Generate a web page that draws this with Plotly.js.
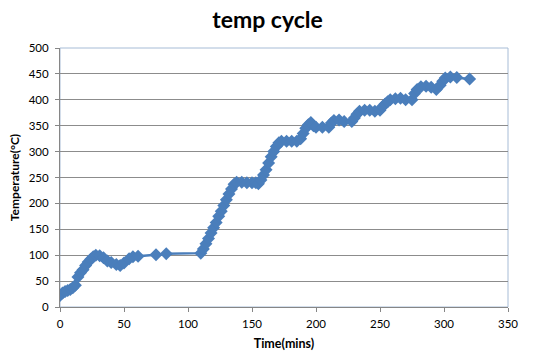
<!DOCTYPE html>
<html>
<head>
<meta charset="utf-8">
<script src="https://cdn.plot.ly/plotly-3.0.1.min.js"></script>
<style>html,body{margin:0;padding:0;background:#fff;}#chart{width:535px;height:357px;}</style>
</head>
<body>
<div id="chart"></div>
<script>
var timeMins = [0,2,4,6,8,10,12,14,16,18,20,22,24,26,28,31,34,37,40,44,47,50,54,57,61,75,83,
  110,112,114,116,118,120,122,124,126,128,130,132,134,136,138,142,146,150,153,155,
  157,159,161,163,165,167,169,171,173,177,181,185,
  188,190,192,194,196,198,200,205,210,212,214,218,222,228,
  230,232,234,238,242,246,250,252,254,256,258,262,266,270,275,
  277,279,282,286,290,294,297,299,301,305,310,320];
var tempC = [22,27,30,32,34,37,42,58,66,72,80,87,92,97,100,99,95,89,86,82,80,85,93,97,98,101,103,
  104,112,122,132,143,153,163,175,185,196,207,218,228,237,241,241,240,240,240,238,
  245,255,265,278,290,300,310,317,320,320,320,320,
  325,335,345,352,356,350,347,347,347,355,360,361,358,358,
  365,372,378,380,380,378,380,387,392,396,400,402,403,400,400,
  412,420,425,426,424,420,428,436,442,444,443,440];
var xTicks = [0,50,100,150,200,250,300,350];
var yTicks = [0,50,100,150,200,250,300,350,400,450,500];

var trace = {
  x: timeMins, y: tempC, type: 'scatter', mode: 'lines+markers',
  line: {color: '#4A7EBB', width: 2.5},
  marker: {symbol: 'diamond', size: 10, color: '#4A7EBB'},
  hoverinfo: 'x+y'
};
var layout = {
  width: 535, height: 357,
  margin: {l: 60, r: 27, t: 48, b: 50},
  paper_bgcolor: '#fff', plot_bgcolor: '#fff',
  font: {family: 'Lato, "Open Sans", sans-serif', color: '#000', size: 11.5},
  showlegend: false,
  title: {text: '<b>temp cycle</b>', x: 0.5, xanchor: 'center', y: 0.945, yanchor: 'middle',
    font: {size: 23, family: 'Lato, "Open Sans", sans-serif', color: '#000'}},
  xaxis: {range: [0, 350], tickvals: xTicks, ticktext: xTicks.map(String),
    showgrid: false, zeroline: false, showline: true, linecolor: '#868686', linewidth: 1,
    ticks: 'outside', ticklen: 4, tickcolor: '#868686', ticklabelstandoff: 2,
    title: {text: '<b>Time(mins)</b>', font: {size: 12.5}, standoff: 10}},
  yaxis: {range: [0, 500], tickvals: yTicks, ticktext: yTicks.map(String),
    showgrid: true, gridcolor: '#8C8C8C', gridwidth: 1, zeroline: false,
    showline: true, linecolor: '#868686', linewidth: 1,
    ticks: 'outside', ticklen: 4, tickcolor: '#868686', ticklabelstandoff: 4,
    title: {text: '<b>Temperature(°C)</b>', font: {size: 12}, standoff: 6}},
  shapes: [{type: 'rect', xref: 'x domain', yref: 'y domain', x0: 0, x1: 1, y0: 0, y1: 1,
    line: {color: '#A7BCD6', width: 1}, layer: 'below'}]
};
Plotly.newPlot('chart', [trace], layout, {displayModeBar: false, staticPlot: true});
</script>
</body>
</html>
